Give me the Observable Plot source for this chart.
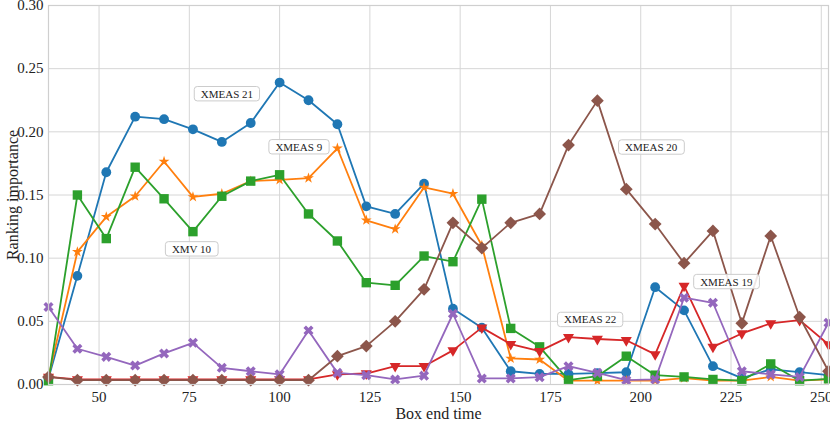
<!DOCTYPE html>
<html><head><meta charset="utf-8">
<script src="https://cdn.jsdelivr.net/npm/d3@7"></script>
<script src="https://cdn.jsdelivr.net/npm/@observablehq/plot@0.6"></script>
<style>
body{margin:0;background:#fff;}
svg, svg text{font-family:'Liberation Serif', serif !important;}
</style>
</head><body><div id="chart"></div>
<script>
// ---- data ----
const boxEnd = [36,44,52,60,68,76,84,92,100,108,116,124,132,140,148,156,164,172,180,188,196,204,212,220,228,236,244,252];
const xmeas21 = [0.005,0.086,0.168,0.212,0.210,0.202,0.192,0.207,0.239,0.225,0.206,0.141,0.135,0.159,0.060,0.045,0.0105,0.0084,0.0084,0.009,0.0097,0.077,0.0587,0.0145,0.005,0.012,0.0098,0.0074];
const xmeas9  = [0.006,0.105,0.1327,0.149,0.1765,0.1485,0.151,0.161,0.162,0.1634,0.187,0.130,0.123,0.156,0.151,0.110,0.0206,0.0198,0.003,0.003,0.003,0.003,0.005,0.003,0.003,0.006,0.003,0.004];
const xmv10   = [0.003,0.150,0.1155,0.172,0.147,0.121,0.149,0.161,0.166,0.135,0.1136,0.0806,0.0785,0.1017,0.0972,0.1467,0.0444,0.0298,0.0034,0.0066,0.0224,0.0074,0.006,0.004,0.003,0.0163,0.003,0.0045];
const xmeas22 = [0.006,0.004,0.004,0.004,0.004,0.004,0.004,0.004,0.004,0.004,0.008,0.0087,0.0145,0.0145,0.027,0.045,0.032,0.0264,0.0375,0.036,0.035,0.0238,0.078,0.0298,0.0404,0.0484,0.051,0.0317];
const xmeas19 = [0.0613,0.0283,0.0219,0.015,0.0246,0.033,0.0132,0.0105,0.008,0.0428,0.0092,0.0074,0.004,0.007,0.056,0.0048,0.0048,0.0058,0.0145,0.0092,0.0034,0.004,0.0687,0.0647,0.0105,0.008,0.006,0.0489];
const xmeas20 = [0.006,0.0034,0.0034,0.0034,0.0034,0.0034,0.0034,0.0034,0.0034,0.0034,0.0224,0.0304,0.050,0.0753,0.128,0.108,0.128,0.135,0.1895,0.2247,0.1546,0.127,0.096,0.1216,0.0484,0.1176,0.0534,0.0105];

const seriesNames  = ["XMEAS 21","XMEAS 9","XMV 10","XMEAS 22","XMEAS 19","XMEAS 20"];
const seriesValues = [xmeas21, xmeas9, xmv10, xmeas22, xmeas19, xmeas20];
const seriesColors = ["#1f77b4","#ff7f0e","#2ca02c","#d62728","#9467bd","#8c564b"];

const xTicks = [50,75,100,125,150,175,200,225,250];
const yTicks = [0,0.05,0.10,0.15,0.20,0.25,0.30];

const labelText = ["XMEAS 21","XMEAS 9","XMV 10","XMEAS 20","XMEAS 22","XMEAS 19"];
const labelX    = [85.4,105.3,75.6,202.9,186.0,223.7];
const labelY    = [0.2298,0.1878,0.107,0.1876,0.0511,0.0811];

// ---- custom symbols ----
const triDown = {draw(ctx, size){
  const a = Math.sqrt(4*size/Math.sqrt(3)), h = a*Math.sqrt(3)/2;
  ctx.moveTo(-a/2, -h/3); ctx.lineTo(a/2, -h/3); ctx.lineTo(0, 2*h/3); ctx.closePath();
}};
const thickX = {draw(ctx, size){
  const w = Math.sqrt(size/5)/2;
  const L = 3*w;
  const pts = [[-w,-L],[w,-L],[w,-w],[L,-w],[L,w],[w,w],[w,L],[-w,L],[-w,w],[-L,w],[-L,-w],[-w,-w]];
  const c = Math.SQRT1_2;
  pts.forEach(([x,y],i)=>{const rx=(x-y)*c, ry=(x+y)*c; i?ctx.lineTo(rx,ry):ctx.moveTo(rx,ry);});
  ctx.closePath();
}};
const diamondD = {draw(ctx, size){
  const d = Math.sqrt(size)/Math.SQRT2;
  ctx.moveTo(0,-d); ctx.lineTo(d,0); ctx.lineTo(0,d); ctx.lineTo(-d,0); ctx.closePath();
}};
const seriesSymbols = ["circle","star","square",triDown,thickX,diamondD];
const seriesR = [4.9,3.4,5.3,4.1,4.5,5.1];

// ---- table ----
const rows = [];
seriesNames.forEach((name,s)=>boxEnd.forEach((t,i)=>rows.push({series:name, s, t, v:seriesValues[s][i]})));
const labels = labelText.map((t,i)=>({t, x:labelX[i], y:labelY[i]}));

const marks = [
  Plot.ruleX(xTicks, {stroke:"#d6d6d6", strokeWidth:1}),
  Plot.ruleY(yTicks, {stroke:"#d6d6d6", strokeWidth:1}),
];
seriesNames.forEach((name,s)=>{
  const d = rows.filter(r=>r.s===s);
  marks.push(Plot.line(d, {x:"t", y:"v", stroke:seriesColors[s], strokeWidth:1.8}));
  marks.push(Plot.dot(d, {x:"t", y:"v", fill:seriesColors[s], stroke:"none", symbol:seriesSymbols[s], r:seriesR[s]}));
});
marks.push(Plot.frame({stroke:"#cfcfcf", strokeWidth:1.2}));
marks.push(Plot.text(labels, {x:"x", y:"y", text:"t", fontSize:11, fill:"#222",
  render(index, scales, values, dims, ctx, next){ const g = next(index, scales, values, dims, ctx); g.setAttribute("class","annot"); return g; }}));
marks.push(Plot.text(["Box end time"], {text:d=>d, frameAnchor:"bottom", lineAnchor:"middle", textAnchor:"middle", dy:29, fontSize:16, fill:"#222"}));
marks.push(Plot.text(["Ranking importance"], {text:d=>d, frameAnchor:"left", textAnchor:"middle", lineAnchor:"middle", dx:-36, rotate:-90, fontSize:16, fill:"#222"}));

const chart = Plot.plot({
  width:830, height:421,
  marginLeft:48, marginRight:2, marginTop:5, marginBottom:37,
  style:{fontFamily:"'Liberation Serif', serif", fontSize:"15px", background:"white", color:"#222"},
  x:{domain:[36,252], ticks:xTicks, tickSize:0, tickPadding:7, label:null},
  y:{domain:[0,0.30], ticks:yTicks, tickSize:0, tickPadding:5, tickFormat:d3.format(".2f"), label:null},
  marks
});
document.getElementById("chart").append(chart);

// boxes behind annotation texts
const NS = "http://www.w3.org/2000/svg";
chart.querySelectorAll("g.annot text").forEach(t=>{
  const b = t.getBBox();
  const r = document.createElementNS(NS,"rect");
  r.setAttribute("x", b.x-6.5); r.setAttribute("y", b.y-1.2);
  r.setAttribute("width", b.width+13); r.setAttribute("height", b.height+2.4);
  r.setAttribute("rx", 3); r.setAttribute("fill","white"); r.setAttribute("fill-opacity","0.85");
  r.setAttribute("stroke","#cccccc"); r.setAttribute("stroke-width","1");
  if (t.getAttribute("transform")) r.setAttribute("transform", t.getAttribute("transform"));
  t.parentNode.insertBefore(r, t);
});
</script>
</body></html>
